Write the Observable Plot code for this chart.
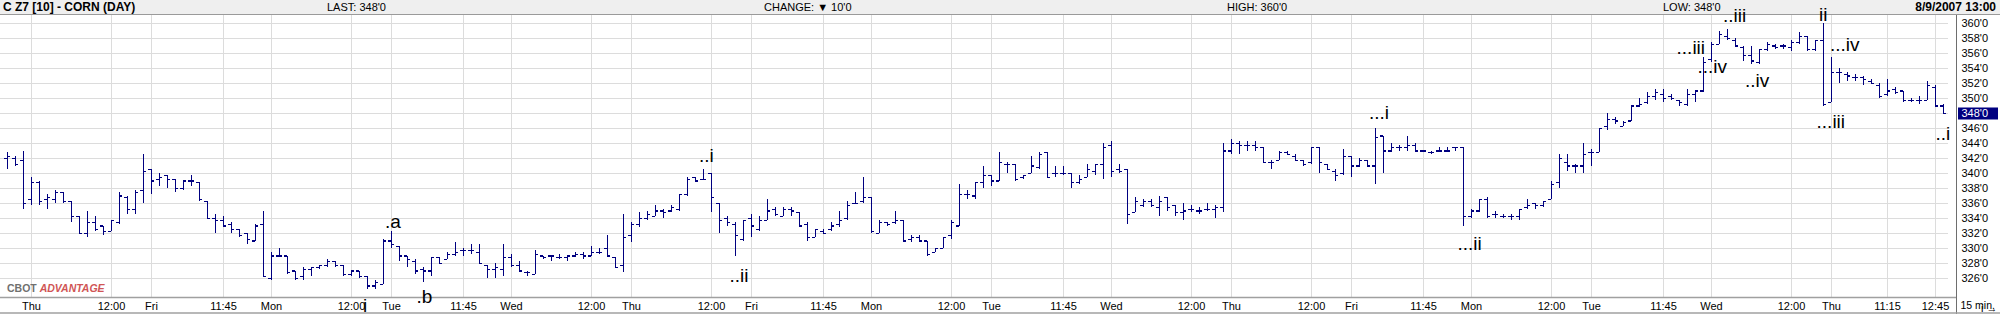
<!DOCTYPE html>
<html><head><meta charset="utf-8">
<script src="https://cdn.jsdelivr.net/npm/d3@7"></script>
<script src="https://cdn.jsdelivr.net/npm/@observablehq/plot@0.6"></script>
<style>
html,body{margin:0;padding:0;background:#fff;overflow:hidden;}
#wrap{position:relative;width:2000px;height:314px;overflow:hidden;font-family:"Liberation Sans",Arial,sans-serif;}
#hdr{position:absolute;left:0;top:0;width:2000px;height:14px;background:#efefef;border-bottom:1px solid #9a9a9a;}
#hdr span{position:absolute;top:1px;font-size:11px;line-height:13px;white-space:nowrap;color:#000;}
#hdr span.b{font-weight:bold;font-size:12px;}
#chart{position:absolute;left:0;top:15px;}
#chart svg{overflow:visible;display:block;}
</style></head><body>
<div id="wrap">
<div id="hdr"></div>
<div id="chart"></div>
</div>
<script>
// ---- data (15-minute OHLC bars, cents/bushel) ----
const open = [342.0,342.0,341.75,336.5,338.75,336.5,336.5,337.5,336.25,334.25,332.0,333.5,333.0,332.25,333.5,336.75,335.25,337.75,340.5,339.25,339.75,339.25,338.0,339.0,338.75,336.25,334.0,333.75,333.25,332.5,332.0,331.0,333.25,326.0,329.0,329.0,327.0,326.25,327.25,327.5,327.75,328.25,327.75,326.5,327.0,326.25,325.0,325.25,331.0,330.25,329.0,328.25,327.25,327.0,328.75,328.5,329.25,329.75,329.75,329.5,327.75,327.25,327.25,328.75,327.75,326.75,326.5,329.0,329.0,328.75,328.75,329.0,329.25,329.0,329.5,330.0,328.75,327.75,331.75,333.25,334.0,334.25,335.0,335.0,335.25,337.25,339.5,339.25,340.0,336.0,334.0,333.25,331.25,334.0,332.5,333.75,335.25,334.25,335.25,334.75,333.25,331.5,332.25,332.5,333.25,334.0,336.0,336.25,336.75,332.0,333.5,333.5,333.75,331.25,331.5,331.0,329.5,330.0,331.75,333.0,337.25,337.0,338.75,339.75,339.0,341.25,341.25,339.5,340.0,340.75,342.75,340.0,340.0,340.0,338.75,339.5,340.25,341.25,343.75,340.5,340.5,334.75,335.75,336.25,335.5,336.75,335.75,334.75,335.25,335.0,335.25,335.25,335.5,343.0,344.0,343.75,343.75,343.5,341.5,341.75,342.75,342.25,341.75,341.5,343.5,341.25,340.25,340.0,342.25,341.0,341.75,341.0,345.0,343.0,343.5,343.5,343.75,343.0,342.75,343.0,343.0,343.5,343.5,334.25,335.0,336.5,334.5,334.25,334.25,334.25,335.5,336.0,335.75,336.5,338.75,341.5,341.0,341.0,342.75,342.75,346.25,347.25,346.25,347.0,349.0,349.5,350.25,350.5,350.25,349.75,349.25,350.5,351.0,355.25,357.25,358.25,357.75,356.75,355.75,354.75,356.5,357.0,357.0,356.75,357.5,358.25,356.5,357.75,349.5,353.5,353.25,352.75,352.75,352.25,351.75,350.5,351.25,351.0,349.75,349.75,349.75,351.5,349.0];
const high = [342.75,342.25,343.0,339.5,339.0,337.25,337.75,337.5,336.25,334.25,335.0,334.25,333.0,333.75,337.5,337.0,337.75,342.5,340.5,340.0,339.75,339.25,339.0,339.75,338.75,336.25,334.5,334.25,333.5,332.5,332.0,333.25,335.0,329.5,330.0,329.0,327.0,327.5,327.5,327.75,328.5,328.25,327.75,327.0,327.0,326.25,325.75,331.25,332.25,330.25,329.0,328.5,327.5,328.75,328.75,329.5,330.75,330.0,330.5,330.5,327.75,328.0,330.5,329.25,328.25,327.0,329.75,329.0,329.0,329.25,329.0,329.5,329.5,330.25,330.0,331.75,328.75,334.5,333.5,334.75,335.0,335.75,335.25,335.75,337.25,339.5,339.5,340.5,340.0,336.0,334.25,333.5,333.75,334.5,334.25,336.5,335.5,335.5,335.5,334.75,333.5,332.5,332.5,333.5,335.0,336.25,337.5,339.5,336.75,333.75,333.5,335.0,333.75,331.75,331.75,331.0,330.0,331.5,333.75,338.5,337.75,338.75,341.0,339.75,342.75,341.5,341.25,339.75,342.25,342.75,342.75,341.0,341.0,340.0,339.75,341.25,341.25,344.0,344.25,341.25,340.5,336.75,336.5,336.5,337.0,336.75,335.75,336.0,335.75,335.5,336.0,335.75,344.0,344.5,344.25,344.25,344.25,343.5,341.75,343.0,343.0,342.5,341.75,343.5,343.5,341.25,340.5,343.25,342.25,342.0,341.75,346.0,345.0,344.0,343.75,345.0,344.0,343.0,343.0,343.5,343.5,343.5,343.5,335.25,336.5,336.75,335.0,334.5,334.5,335.25,336.5,336.0,336.25,339.0,342.5,342.5,341.25,344.0,343.25,346.0,348.0,347.5,347.0,349.0,350.0,350.75,351.25,351.25,350.5,349.75,351.25,351.0,355.5,357.5,359.0,359.25,358.0,357.0,357.0,356.5,357.5,357.25,357.25,357.75,358.75,358.25,357.75,360.0,355.5,354.0,353.5,353.25,353.0,352.5,352.0,352.5,351.5,351.0,350.0,350.25,352.25,351.75,349.25];
const low = [340.5,341.0,335.25,335.75,335.75,335.25,336.0,336.0,333.5,332.0,331.5,332.25,331.75,332.25,333.25,334.5,334.5,336.0,337.25,338.25,338.0,337.5,337.75,338.25,336.25,334.0,332.0,333.0,332.0,331.5,330.5,331.0,326.25,325.75,328.75,326.5,325.75,325.75,326.25,327.25,327.5,327.5,326.25,326.25,326.0,324.5,324.5,325.25,330.0,328.25,327.5,326.5,325.5,326.25,328.0,328.5,329.0,329.0,329.25,328.0,326.0,326.0,326.25,327.5,327.0,326.25,326.5,328.5,328.25,328.5,328.25,328.75,328.5,329.0,329.25,328.75,327.5,326.75,330.75,332.75,333.75,334.25,334.0,334.75,335.0,337.0,339.0,339.25,334.75,332.0,333.0,329.0,331.0,331.5,332.25,333.75,334.25,334.25,334.25,333.0,331.0,331.5,332.0,332.25,332.75,333.75,336.0,336.0,332.0,332.0,333.0,333.25,331.0,330.75,330.75,329.0,329.5,330.0,331.25,333.0,336.5,336.5,338.0,338.25,339.0,340.0,339.0,339.25,340.0,340.5,339.5,339.5,339.75,338.0,338.5,339.5,339.75,339.25,339.5,340.0,333.25,334.75,335.5,335.5,334.25,335.0,334.25,333.75,334.75,334.5,335.0,334.0,334.75,342.5,342.5,343.0,343.0,341.5,340.5,341.75,342.5,341.75,341.0,341.25,340.0,340.5,339.0,339.75,339.5,340.75,340.75,338.5,340.0,342.75,343.0,343.0,343.0,342.75,342.5,343.0,342.75,343.0,333.0,334.0,334.75,334.0,334.0,334.0,333.75,333.75,335.25,335.25,335.5,336.5,338.0,340.25,340.0,340.0,341.0,342.75,345.75,346.5,346.25,347.0,348.75,349.25,349.75,349.5,349.75,349.0,349.0,349.5,350.75,354.75,357.25,357.75,356.75,355.0,354.5,354.5,356.25,356.5,356.5,356.25,357.25,356.25,356.25,349.0,349.5,352.0,352.25,352.25,351.75,352.0,350.0,350.25,350.5,349.5,349.5,349.25,349.75,349.0,348.0];
const close = [342.25,341.25,336.0,338.75,336.25,336.75,337.5,336.25,334.25,332.0,333.5,332.5,332.25,333.75,337.0,335.25,337.5,340.25,339.0,339.5,339.25,338.0,339.0,339.0,336.5,334.0,333.75,333.0,332.5,331.75,331.25,333.0,326.25,329.0,329.0,326.75,326.0,327.25,327.5,327.75,328.25,327.75,326.5,327.0,326.25,325.0,325.5,331.0,330.5,329.0,328.5,327.0,327.0,328.75,328.0,329.25,329.5,329.75,329.75,328.0,327.25,327.5,328.75,327.75,327.0,326.75,329.25,328.75,329.0,328.75,329.0,329.25,329.0,329.5,329.5,329.0,327.5,331.5,333.25,334.0,334.5,335.0,334.75,335.5,337.25,339.25,339.0,339.25,336.75,333.75,333.5,331.75,333.75,333.0,333.75,335.0,334.5,335.25,335.0,333.0,331.5,332.5,332.0,333.0,333.75,335.75,336.0,336.75,332.25,333.5,333.25,333.75,331.0,331.5,331.0,329.25,330.0,331.5,333.5,337.25,337.25,338.75,339.75,339.0,341.5,341.25,339.25,339.75,341.0,342.5,339.5,340.0,340.0,338.75,339.25,340.5,341.25,343.5,340.25,340.25,334.5,336.25,336.25,335.75,336.25,335.5,334.75,335.0,335.25,335.0,335.25,335.5,343.0,344.0,343.75,343.75,343.5,341.5,341.5,342.75,342.5,341.75,341.25,343.5,341.5,340.5,339.75,342.25,341.0,341.75,341.0,344.75,343.0,343.5,343.5,343.75,343.0,343.0,342.75,343.0,343.0,343.5,334.25,335.0,336.5,334.25,334.5,334.25,334.25,335.25,335.75,335.75,336.25,338.5,342.0,341.0,341.0,342.5,342.75,346.0,347.25,347.0,346.75,349.0,349.25,350.25,350.75,350.0,350.0,349.5,350.5,351.0,354.75,357.25,358.5,358.0,357.0,355.75,355.0,356.5,357.25,356.75,357.0,357.5,358.25,356.5,357.75,349.25,353.5,353.5,353.0,352.75,352.5,352.0,350.25,351.0,350.75,349.75,349.75,349.75,351.75,349.0,348.0];

// first bar is Wed 12:30; each session runs 9:30 .. 13:00
const leadBars = 3;
const barsPerDay = 15;
const dayNames = ["Thu","Fri","Mon","Tue","Wed","Thu","Fri","Mon","Tue","Wed","Thu","Fri","Mon","Tue","Wed","Thu"];
const midTimes = [["12:00"],["11:45"],["12:00"],["11:45"],["12:00"],["12:00"],["11:45"],["12:00"],["11:45"],["12:00"],["12:00"],["11:45"],["12:00"],["11:45"],["12:00"],["11:15","12:45"]];
const priceTicks = d3.range(326, 361, 2);

// wave annotations: text, bar position, price level of baseline
const waveText  = [".a", ".b", "i", "..i", "..ii", "...i", "...ii", "...iii", "..iii", "...iv", "..iv", "ii", "...iv", "...iii", "..i"];
const waveBar   = [47.19, 51.13, 44.44, 86.44, 90.25, 170.19, 181.25, 208.63, 214.44, 211.25, 217.19, 226.44, 227.81, 226.13, 241.0];
const wavePrice = [332.8, 322.67, 321.52, 341.51, 325.51, 347.29, 329.83, 355.96, 360.17, 353.37, 351.6, 360.27, 356.27, 346.04, 344.49];

const header = {symbol: "C Z7 [10] - CORN (DAY)", last: "348'0", change: "10'0", high: "360'0", low: "348'0", stamp: "8/9/2007 13:00"};

// ---- build ----
const fmtPrice = p => `${Math.floor(p)}'${Math.round((p - Math.floor(p)) * 8)}`;
const bars = open.map((o, i) => ({i, o, h: high[i], l: low[i], c: close[i]}));
const toMin = s => { const [h, m] = s.split(":").map(Number); return h * 60 + m; };
const xTicks = [];
dayNames.forEach((name, d) => {
  const start = leadBars + d * barsPerDay;
  xTicks.push({i: start, label: name});
  midTimes[d].forEach(t => xTicks.push({i: start + (toMin(t) - toMin("9:30")) / 15, label: t}));
});
const labelOf = new Map(xTicks.map(d => [d.i, d.label]));
const waves = waveText.map((t, k) => ({t, i: waveBar[k], p: wavePrice[k]}));

const navy = "#000080";
const xDom = [-0.875, 243.625];
const yDom = [323.4667, 361.0667];
const gridEnd = bars.length - 1 + 0.625;
const W = 2000, H = 299;

const chart = Plot.plot({
  width: W, height: H,
  marginLeft: 0, marginRight: 44, marginTop: 0, marginBottom: 17,
  x: {domain: xDom, range: [0, 1956]},
  y: {domain: yDom, range: [282, 0]},
  style: {fontFamily: "'Liberation Sans', Arial, sans-serif", fontSize: "11px", color: "#000", background: "transparent", overflow: "visible"},
  marks: [
    Plot.ruleY(priceTicks, {x1: xDom[0], x2: gridEnd, stroke: "#dcdcdc", shapeRendering: "crispEdges"}),
    Plot.ruleX(xTicks, {x: "i", stroke: "#dcdcdc", shapeRendering: "crispEdges"}),
    Plot.ruleX(bars, {x: "i", y1: "l", y2: "h", stroke: navy, strokeWidth: 1.1, shapeRendering: "crispEdges"}),
    Plot.ruleY(bars, {y: "o", x1: d => d.i - 0.375, x2: "i", stroke: navy, strokeWidth: 1.1, shapeRendering: "crispEdges"}),
    Plot.ruleY(bars, {y: "c", x1: "i", x2: d => d.i + 0.375, stroke: navy, strokeWidth: 1.1, shapeRendering: "crispEdges"}),
    Plot.ruleY([yDom[0]], {stroke: "#a0a0a0", strokeWidth: 1.5}),
    Plot.axisY(priceTicks, {anchor: "right", tickSize: 0, tickPadding: 5, tickFormat: fmtPrice}),
    Plot.axisX(xTicks.map(d => d.i), {anchor: "bottom", tickSize: 0, tickPadding: 5, tickFormat: i => labelOf.get(i)}),
    Plot.text(waves, {x: "i", y: "p", text: "t", textAnchor: "start", lineAnchor: "bottom", fontSize: 19, fill: "#000"})
  ]
});
document.getElementById("chart").appendChild(chart);

// decorations using plot scales
const sx = chart.scale("x"), sy = chart.scale("y");
const svg = d3.select(chart);
const deco = svg.append("g").attr("text-anchor", "start");
const axisX = Math.round(sx.apply(xDom[1])) + 0.5;
deco.append("line").attr("x1", axisX).attr("x2", axisX).attr("y1", 0).attr("y2", H).attr("stroke", "#6e6e6e");
deco.append("line").attr("x1", 0).attr("x2", W).attr("y1", H - 1).attr("y2", H - 1).attr("stroke", "#a0a0a0").attr("stroke-width", 1.5);
deco.append("text").attr("x", axisX + 4).attr("y", 282 + 5).attr("dy", "0.71em").attr("font-size", 10.5).text("15 min.");
// current price marker
const lastClose = close[close.length - 1];
const yl = sy.apply(lastClose);
deco.append("rect").attr("x", axisX + 1.5).attr("y", yl - 5.5).attr("width", 40).attr("height", 12).attr("fill", navy);
deco.append("text").attr("x", axisX + 5).attr("y", yl).attr("dy", "0.34em").attr("font-size", 11).attr("fill", "#fff").text(fmtPrice(lastClose));
// logo
const logo = deco.append("text").attr("x", 7).attr("y", 277).attr("font-size", 10.5).attr("font-weight", "bold");
logo.append("tspan").attr("fill", "#707070").text("CBOT ");
logo.append("tspan").attr("fill", "#d05555").attr("font-style", "italic").text("ADVANTAGE");

// header band
const hdr = d3.select("#hdr");
hdr.append("span").attr("class", "b").style("left", "3px").text(header.symbol);
hdr.append("span").style("left", "327px").text(`LAST: ${header.last}`);
hdr.append("span").style("left", "764px").text(`CHANGE: \u25BC ${header.change}`);
hdr.append("span").style("left", "1227px").text(`HIGH: ${header.high}`);
hdr.append("span").style("left", "1663px").text(`LOW: ${header.low}`);
hdr.append("span").attr("class", "b").style("right", "4px").text(header.stamp);
</script>
</body></html>
